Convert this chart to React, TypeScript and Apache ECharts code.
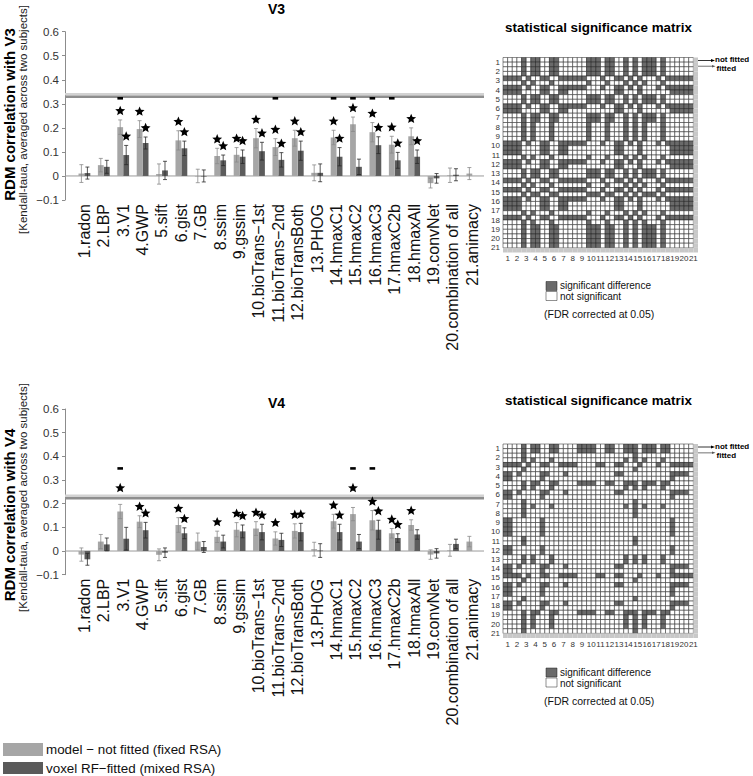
import React, { useEffect, useRef } from 'react';
import * as echarts from 'echarts';

const FONT = 'Liberation Sans, Arial, Helvetica, sans-serif';

const modelNames = [
  '1.radon', '2.LBP', '3.V1', '4.GWP', '5.sift', '6.gist', '7.GB', '8.ssim', '9.gssim',
  '10.bioTrans\u22121st', '11.bioTrans\u22122nd', '12.bioTransBoth', '13.PHOG', '14.hmaxC1',
  '15.hmaxC2', '16.hmaxC3', '17.hmaxC2b', '18.hmaxAll', '19.convNet', '20.combination of all', '21.animacy',
];
const matrixTickLabels = ['1','2','3','4','5','6','7','8','9','10','11','12','13','14','15','16','17','18','19','20','21'];

// ---- V3 ----
const v3NotFitted = [0.010, 0.045, 0.203, 0.195, 0.008, 0.148, 0.000, 0.083, 0.088, 0.157, 0.120, 0.157, 0.013, 0.160, 0.215, 0.182, 0.130, 0.165, -0.030, 0.003, 0.010];
const v3NotFittedErr = [0.037, 0.028, 0.030, 0.035, 0.042, 0.040, 0.028, 0.032, 0.030, 0.040, 0.035, 0.033, 0.033, 0.030, 0.030, 0.040, 0.035, 0.035, 0.020, 0.030, 0.025];
const v3Fitted = [0.012, 0.038, 0.087, 0.137, 0.023, 0.115, 0.000, 0.065, 0.080, 0.103, 0.067, 0.105, 0.013, 0.080, 0.038, 0.128, 0.065, 0.080, -0.010, 0.005, null];
const v3FittedErr = [0.025, 0.027, 0.040, 0.025, 0.038, 0.030, 0.025, 0.022, 0.028, 0.037, 0.030, 0.040, 0.037, 0.038, 0.032, 0.035, 0.033, 0.028, 0.020, 0.025, null];
const v3NotFittedSig = [3, 4, 6, 8, 9, 10, 11, 12, 14, 15, 16, 17, 18];
const v3FittedSig = [3, 4, 6, 8, 9, 10, 11, 12, 14, 16, 17, 18];
const v3Dashes = [3, 11, 14, 15, 16, 17];
const v3DashLevel = 0.323;
const v3Ceiling = 0.335;

// ---- V4 ----
const v4NotFitted = [-0.015, 0.040, 0.167, 0.124, -0.016, 0.110, 0.040, 0.060, 0.090, 0.095, 0.053, 0.085, 0.008, 0.126, 0.156, 0.130, 0.075, 0.110, -0.015, 0.003, 0.040];
const v4NotFittedErr = [0.028, 0.030, 0.030, 0.025, 0.025, 0.031, 0.036, 0.024, 0.030, 0.029, 0.028, 0.030, 0.029, 0.029, 0.028, 0.041, 0.020, 0.022, 0.020, 0.025, 0.022];
const v4Fitted = [-0.035, 0.028, 0.052, 0.088, -0.007, 0.075, 0.017, 0.040, 0.083, 0.080, 0.047, 0.080, 0.002, 0.080, 0.040, 0.090, 0.055, 0.070, -0.010, 0.030, null];
const v4FittedErr = [0.025, 0.027, 0.048, 0.033, 0.020, 0.023, 0.023, 0.027, 0.027, 0.033, 0.028, 0.037, 0.029, 0.033, 0.030, 0.040, 0.018, 0.020, 0.020, 0.020, null];
const v4NotFittedSig = [3, 4, 6, 8, 9, 10, 11, 12, 14, 15, 16, 17, 18];
const v4FittedSig = [4, 6, 9, 10, 12, 14, 16, 17];
const v4Dashes = [3, 15, 16];
const v4DashLevel = 0.349;
const v4Ceiling = 0.228;

// ---- significance matrices (rows/cols: 1 not fitted, 1 fitted, 2 not fitted, ...; '1' significant, '0' not, '-' no value) ----
const m3Z = '00001011001100000011101100101011101000000-';
const m3M = '00001010001000000010001000101010001000000-';
const m3H = '11110000110011000000000011000100000011111-';
const m3T = '11110100110011111100010011010100010111111-';
const mNone = '------------------------------------------';
const v3Matrix = [
  m3Z, m3Z, m3Z, m3Z, m3T, m3M, m3T, m3H, m3Z, m3Z, m3T, m3H, m3Z, m3Z, m3M, m3M, m3M, m3M, m3T, m3H, m3H,
  m3M, m3T, m3H, m3Z, m3Z, m3T, m3M, m3T, m3Z, m3T, m3H, m3H, m3M, m3T, m3M, m3Z, m3Z, m3Z, m3Z, m3Z, mNone,
];
const m4A = '00001011001100001111001100111011101100000-';
const m4B = '00001010001000000000000000101010001000000-';
const m4C = '00001000000000000000000000001000000000000-';
const m4D = '11000000100000000000000000000000000010000-';
const m4E = '11010000110001000000000011000000000011110-';
const m4G = '11110100110011110000110011000100010011111-';
const v4Matrix = [
  m4A, m4A, m4C, m4B, m4G, m4C, m4E, m4D, m4A, m4B, m4E, m4D, m4C, m4B, m4C, m4C, m4D, m4D, m4D, m4D, m4C,
  m4C, m4D, m4D, m4B, m4B, m4E, m4D, m4G, m4C, m4E, m4D, m4D, m4C, m4E, m4D, m4A, m4B, m4B, m4B, m4C, mNone,
];

const LIGHT = '#a6a6a6';
const DARK = '#5c5c5c';
const CELL_DARK = '#6a6a6a';
const XMAX = 21.6;

function barItems(vals: (number | null)[], errs: (number | null)[], sig: number[]) {
  const out: any[] = [];
  vals.forEach((v, i) => {
    if (v == null) return;
    out.push([i + 1, v, errs[i], sig.includes(i + 1) ? 1 : 0]);
  });
  return out;
}

function starPoints(cx: number, cy: number, R: number) {
  const pts: number[][] = [];
  const r = R * 0.45;
  for (let k = 0; k < 10; k++) {
    const ang = (-90 + k * 36) * Math.PI / 180;
    const rad = k % 2 === 0 ? R : r;
    pts.push([cx + rad * Math.cos(ang), cy + rad * Math.sin(ang)]);
  }
  return pts;
}

const makeBarRender = (dx: number, fill: string, errColor: string, ceiling: number) => (_p: any, api: any) => {
  const c = api.value(0), v = api.value(1), e = api.value(2), s = api.value(3);
  const p0 = api.coord([c, 0]);
  const p1 = api.coord([c, v]);
  const ph = api.coord([c, v + e]);
  const pl = api.coord([c, v - e]);
  const pc = api.coord([c, ceiling]);
  const x = p0[0] + dx;
  const w = 5.8;
  const kids: any[] = [
    { type: 'rect', shape: { x: x - w / 2, y: Math.min(p0[1], p1[1]), width: w, height: Math.max(0.6, Math.abs(p0[1] - p1[1])) }, style: { fill } },
    { type: 'line', shape: { x1: x, y1: ph[1], x2: x, y2: pl[1] }, style: { stroke: errColor, lineWidth: 0.8 } },
    { type: 'line', shape: { x1: x - 2, y1: ph[1], x2: x + 2, y2: ph[1] }, style: { stroke: errColor, lineWidth: 0.8 } },
    { type: 'line', shape: { x1: x - 2, y1: pl[1], x2: x + 2, y2: pl[1] }, style: { stroke: errColor, lineWidth: 0.8 } },
  ];
  if (s) {
    let sy = ph[1] - 9;
    if (sy < pc[1] + 3) sy = pc[1] - 9;
    kids.push({ type: 'polygon', shape: { points: starPoints(x, sy, 5.2) }, style: { fill: '#000' } });
  }
  return { type: 'group', children: kids };
};

const dashRender = (_p: any, api: any) => {
  const pt = api.coord([api.value(0), api.value(1)]);
  return { type: 'rect', shape: { x: pt[0] - 3 - 2.8, y: pt[1] - 1.3, width: 5.6, height: 2.6 }, style: { fill: '#000' } };
};

const refRender = (_p: any, api: any) => {
  const yz = api.coord([0, 0])[1];
  const yc = api.coord([0, api.value(1)])[1];
  const x0 = api.coord([0, 0])[0];
  const x1 = api.coord([XMAX, 0])[0];
  return {
    type: 'group',
    children: [
      { type: 'line', shape: { x1: x0, y1: yz, x2: x1, y2: yz }, style: { stroke: '#9a9a9a', lineWidth: 1 } },
      { type: 'rect', shape: { x: x0, y: yc - 2.5, width: x1 - x0, height: 2.5 }, style: { fill: '#d2d2d2' } },
      { type: 'rect', shape: { x: x0, y: yc, width: x1 - x0, height: 2.5 }, style: { fill: '#8e8e8e' } },
    ],
  };
};

const matrixRender = (_p: any, api: any) => {
  const c = api.value(0), r = api.value(1), v = api.value(2);
  const pt = api.coord([c, r]);
  const sz = api.size([1, 1]);
  const fill = v === 1 ? CELL_DARK : v === 0 ? '#ffffff' : '#c8c8c8';
  return {
    type: 'rect',
    shape: { x: pt[0] - sz[0] / 2, y: pt[1] - sz[1] / 2, width: sz[0], height: sz[1] },
    style: v === 2 ? { fill } : { fill, stroke: '#1e1e1e', lineWidth: 0.5 },
  };
};

function matrixItems(rows: string[]) {
  const out: number[][] = [];
  rows.forEach((row, r) => {
    for (let c = 0; c < row.length; c++) {
      const ch = row[c];
      out.push([c, r, ch === '1' ? 1 : ch === '0' ? 0 : 2]);
    }
  });
  return out;
}

const idx42 = Array.from({ length: 42 }, (_, i) => String(i));

function txt(x: number, y: number, text: string, font: string, align = 'left', rot = 0, fill = '#000') {
  return {
    type: 'text', x, y, rotation: rot, silent: true,
    style: { text, font, fill, align, textAlign: align, verticalAlign: 'middle', textVerticalAlign: 'middle' },
  };
}

function matrixDecor(top: number, titleY: number) {
  return [
    txt(598.5, titleY, 'statistical significance matrix', `bold 13.4px ${FONT}`, 'center'),
    { type: 'line', shape: { x1: 698, y1: top + 3, x2: 712, y2: top + 3 }, style: { stroke: '#000', lineWidth: 0.8 } },
    { type: 'polygon', shape: { points: [[711, top + 1.6], [715, top + 3], [711, top + 4.4]] }, style: { fill: '#000' } },
    { type: 'line', shape: { x1: 698, y1: top + 8.8, x2: 712, y2: top + 8.8 }, style: { stroke: '#9a9a9a', lineWidth: 1.4 } },
    { type: 'polygon', shape: { points: [[712, top + 7.6], [715.5, top + 8.8], [712, top + 10]] }, style: { fill: '#555' } },
    txt(715, top + 2.3, 'not fitted', `bold 8px ${FONT}`),
    txt(716.5, top + 11.3, 'fitted', `bold 8px ${FONT}`),
    { type: 'rect', shape: { x: 546, y: top + 224, width: 11, height: 9 }, style: { fill: CELL_DARK, stroke: '#222', lineWidth: 0.5 } },
    { type: 'rect', shape: { x: 546, y: top + 234, width: 11, height: 9 }, style: { fill: '#fff', stroke: '#222', lineWidth: 0.5 } },
    txt(560, top + 228, 'significant difference', `10px ${FONT}`, 'left', 0, '#111'),
    txt(560, top + 239, 'not significant', `10px ${FONT}`, 'left', 0, '#111'),
    txt(544, top + 256.5, '(FDR corrected at 0.05)', `10.5px ${FONT}`, 'left', 0, '#111'),
  ];
}

const yFmt = (v: number) => {
  if (Math.abs(v) < 1e-9) return '0';
  return (v < 0 ? '\u2212' : '') + Math.abs(v).toFixed(1);
};

function barXAxis(gridIndex: number) {
  return {
    type: 'value', gridIndex, min: 0, max: XMAX, interval: 1,
    axisLine: { show: false }, axisTick: { show: false }, splitLine: { show: false },
    axisLabel: {
      rotate: 90, margin: 4, fontSize: 16, color: '#111', fontFamily: FONT,
      formatter: (v: number) => (Number.isInteger(v) && v >= 1 && v <= 21 ? modelNames[v - 1] : ''),
    },
  };
}
function barYAxis(gridIndex: number) {
  return {
    type: 'value', gridIndex, min: -0.1, max: 0.6, interval: 0.1,
    axisLine: { show: true, lineStyle: { color: '#8c8c8c', width: 1 } },
    axisTick: { show: true, length: 3, lineStyle: { color: '#8c8c8c' } },
    splitLine: { show: false },
    axisLabel: { fontSize: 11.5, color: '#333', margin: 6, fontFamily: FONT, formatter: yFmt },
  };
}

const matLabelX = (gridIndex: number) => ({
  type: 'category', gridIndex, data: matrixTickLabels, position: 'bottom',
  axisLine: { show: false }, axisTick: { show: false },
  axisLabel: { fontSize: 8, color: '#333', margin: 2, interval: 0, fontFamily: FONT },
});
const matLabelY = (gridIndex: number) => ({
  type: 'category', gridIndex, data: matrixTickLabels, inverse: true, position: 'left',
  axisLine: { show: false }, axisTick: { show: false },
  axisLabel: { fontSize: 8, color: '#333', margin: 3, interval: 0, fontFamily: FONT },
});

export default function App() {
  const ref = useRef<HTMLDivElement>(null);
  useEffect(() => {
    if (!ref.current) return;
    const chart = echarts.init(ref.current, undefined, { renderer: 'svg' });
    const M3TOP = 57.5;
    const M4TOP = 444;

    const option: any = {
      animation: false,
      backgroundColor: '#ffffff',
      textStyle: { fontFamily: FONT },
      grid: [
        { left: 65, top: 31.7, width: 419, height: 168.3 },
        { left: 65, top: 409, width: 419, height: 165.7 },
        { left: 503, top: M3TOP, width: 195, height: 195 },
        { left: 503, top: M4TOP, width: 195, height: 194 },
      ],
      xAxis: [
        barXAxis(0),
        barXAxis(1),
        { type: 'category', gridIndex: 2, data: idx42, show: false, position: 'top' },
        matLabelX(2),
        { type: 'category', gridIndex: 3, data: idx42, show: false, position: 'top' },
        matLabelX(3),
      ],
      yAxis: [
        barYAxis(0),
        barYAxis(1),
        { type: 'category', gridIndex: 2, data: idx42, inverse: true, show: false, position: 'right' },
        matLabelY(2),
        { type: 'category', gridIndex: 3, data: idx42, inverse: true, show: false, position: 'right' },
        matLabelY(3),
      ],
      series: [
        { type: 'custom', name: 'v3ref', xAxisIndex: 0, yAxisIndex: 0, clip: false, renderItem: refRender, data: [[0, v3Ceiling]] },
        { type: 'custom', name: 'v3 not fitted', xAxisIndex: 0, yAxisIndex: 0, clip: false, renderItem: makeBarRender(-3, LIGHT, '#8a8a8a', v3Ceiling), data: barItems(v3NotFitted, v3NotFittedErr, v3NotFittedSig) },
        { type: 'custom', name: 'v3 fitted', xAxisIndex: 0, yAxisIndex: 0, clip: false, renderItem: makeBarRender(3, DARK, '#2a2a2a', v3Ceiling), data: barItems(v3Fitted, v3FittedErr, v3FittedSig) },
        { type: 'custom', name: 'v3 dash', xAxisIndex: 0, yAxisIndex: 0, clip: false, renderItem: dashRender, data: v3Dashes.map((c) => [c, v3DashLevel]) },

        { type: 'custom', name: 'v4ref', xAxisIndex: 1, yAxisIndex: 1, clip: false, renderItem: refRender, data: [[0, v4Ceiling]] },
        { type: 'custom', name: 'v4 not fitted', xAxisIndex: 1, yAxisIndex: 1, clip: false, renderItem: makeBarRender(-3, LIGHT, '#8a8a8a', v4Ceiling), data: barItems(v4NotFitted, v4NotFittedErr, v4NotFittedSig) },
        { type: 'custom', name: 'v4 fitted', xAxisIndex: 1, yAxisIndex: 1, clip: false, renderItem: makeBarRender(3, DARK, '#2a2a2a', v4Ceiling), data: barItems(v4Fitted, v4FittedErr, v4FittedSig) },
        { type: 'custom', name: 'v4 dash', xAxisIndex: 1, yAxisIndex: 1, clip: false, renderItem: dashRender, data: v4Dashes.map((c) => [c, v4DashLevel]) },

        { type: 'custom', name: 'm3', xAxisIndex: 2, yAxisIndex: 2, renderItem: matrixRender, data: matrixItems(v3Matrix) },
        { type: 'custom', name: 'm4', xAxisIndex: 4, yAxisIndex: 4, renderItem: matrixRender, data: matrixItems(v4Matrix) },
      ],
      graphic: [
        txt(276.5, 8.5, 'V3', `bold 14px ${FONT}`, 'center'),
        txt(276.5, 403, 'V4', `bold 14px ${FONT}`, 'center'),
        txt(9.5, 114.5, 'RDM correlation with V3', `bold 15px ${FONT}`, 'center', Math.PI / 2),
        txt(23, 119.5, '[Kendall-taua, averaged across two subjects]', `11.5px ${FONT}`, 'center', Math.PI / 2, '#222'),
        txt(9.5, 515, 'RDM correlation with V4', `bold 15px ${FONT}`, 'center', Math.PI / 2),
        txt(23, 497.5, '[Kendall-taua, averaged across two subjects]', `11.5px ${FONT}`, 'center', Math.PI / 2, '#222'),
        ...matrixDecor(M3TOP, 27),
        ...matrixDecor(M4TOP, 400),
        { type: 'rect', shape: { x: 3, y: 743, width: 40, height: 13 }, style: { fill: LIGHT } },
        { type: 'rect', shape: { x: 3, y: 762, width: 40, height: 12 }, style: { fill: '#5a5a5a' } },
        txt(46, 749.5, 'model \u2212 not fitted (fixed RSA)', `13.4px ${FONT}`, 'left', 0, '#111'),
        txt(46, 768, 'voxel RF\u2212fitted (mixed RSA)', `13.4px ${FONT}`, 'left', 0, '#111'),
      ],
    };
    chart.setOption(option);
    return () => chart.dispose();
  }, []);
  return <div ref={ref} style={{ position: 'absolute', left: 0, top: 0, width: 753, height: 776 }} />;
}
